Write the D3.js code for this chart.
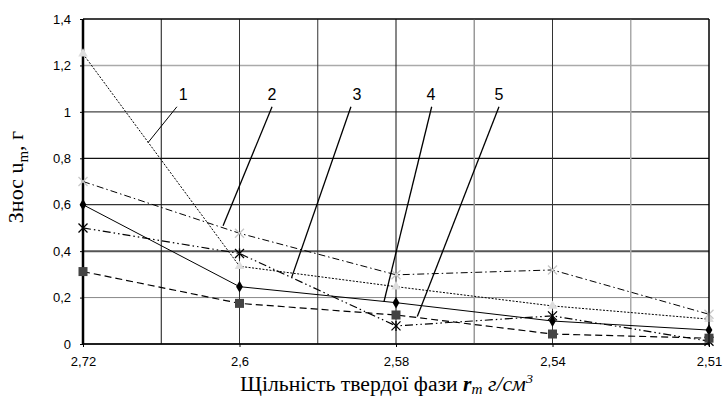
<!DOCTYPE html>
<html>
<head>
<meta charset="utf-8">
<script src="https://cdn.jsdelivr.net/npm/d3@7"></script>
<style>
  body { margin: 0; background: #fff; }
  svg { display: block; }
</style>
</head>
<body>
<svg id="chart" width="723" height="398"></svg>
<script>
// density categories (x axis)
var categories = ['2,72', '2,6', '2,58', '2,54', '2,51']
// wear values per curve
var series1 = [1.25, 0.335, 0.247, 0.164, 0.107]
var series2 = [0.70, 0.477, 0.298, 0.319, 0.128]
var series3 = [0.50, 0.39, 0.078, 0.121, 0.012]
var series4 = [0.60, 0.247, 0.178, 0.099, 0.06]
var series5 = [0.312, 0.175, 0.125, 0.043, 0.025]
var yTicks = [0, 0.2, 0.4, 0.6, 0.8, 1, 1.2, 1.4]
// curve labels: text spot and leader end, in (category index, value)
var labelNames = ['1', '2', '3', '4', '5']
var labelAt = [[0.64, 1.074], [1.208, 1.074], [1.75, 1.074], [2.224, 1.074], [2.658, 1.074]]
var leaderFrom = [[0.60, 1.022], [1.208, 1.022], [1.712, 1.022], [2.228, 1.022], [2.658, 1.022]]
var leaderTo = [[0.415, 0.867], [0.895, 0.509], [1.334, 0.288], [1.923, 0.182], [2.136, 0.118]]

var svg = d3.select('#chart')
var x = d3.scaleLinear().domain([0, categories.length - 1]).range([83, 709])
var y = d3.scaleLinear().domain([0, 1.4]).range([344, 19])

// grid colours as they look on the scan
var hGridColor = ['#000', '#888', '#555', '#333', '#111', '#444', '#aaa', '#000']
var hGridWidth = [1, 1, 2, 1.2, 1.2, 1.2, 1.5, 1]
var vGrid = d3.range(0, 4.01, 0.5)
var vGridColor = ['#000', '#111', '#333', '#333', '#111', '#999', '#333', '#aaa', '#000']

svg.append('g').selectAll('line')
  .data(yTicks)
  .enter().append('line')
  .attr('x1', x(0)).attr('x2', x(4))
  .attr('y1', function (d) { return y(d) })
  .attr('y2', function (d) { return y(d) })
  .attr('stroke', function (d, i) { return hGridColor[i] })
  .attr('stroke-width', function (d, i) { return hGridWidth[i] })

svg.append('g').selectAll('line')
  .data(vGrid)
  .enter().append('line')
  .attr('x1', function (d) { return x(d) })
  .attr('x2', function (d) { return x(d) })
  .attr('y1', y(0)).attr('y2', y(1.4))
  .attr('stroke', function (d, i) { return vGridColor[i] })
  .attr('stroke-width', function (d, i) { return i === 5 || i === 7 ? 1.5 : 1 })

var fmt = function (d) { return String(+d.toFixed(1)).replace('.', ',') }

var yAxis = svg.append('g')
  .attr('transform', 'translate(' + x(0) + ',0)')
  .call(d3.axisLeft(y).tickValues(yTicks).tickFormat(fmt).tickSize(3).tickPadding(9))
yAxis.select('.domain').attr('stroke-width', 2.5).attr('d', 'M0,' + y(0) + 'V' + y(1.4))

var xAxis = svg.append('g')
  .attr('transform', 'translate(0,' + y(0) + ')')
  .call(d3.axisBottom(x).tickValues(d3.range(categories.length))
    .tickFormat(function (d) { return categories[d] }).tickSize(3).tickPadding(10))
xAxis.select('.domain').attr('stroke-width', 1.5).attr('d', 'M' + x(0) + ',0H' + x(4))

svg.selectAll('.tick text')
  .attr('font-family', 'Liberation Sans, Arial, sans-serif')
  .attr('font-size', 13)
  .attr('fill', '#000')

var line = d3.line()
  .x(function (d, i) { return x(i) })
  .y(function (d) { return y(d) })

var curves = [
  {v: series1, dash: '2,1.5', w: 1, color: '#000'},
  {v: series2, dash: '7,3,1.5,3', w: 1, color: '#000'},
  {v: series3, dash: '8,3,1.5,3,1.5,3', w: 1.2, color: '#000'},
  {v: series4, dash: null, w: 1, color: '#000'},
  {v: series5, dash: '7,4', w: 1.2, color: '#000'}
]

svg.append('g').selectAll('path')
  .data(curves)
  .enter().append('path')
  .attr('d', function (d) { return line(d.v) })
  .attr('fill', 'none')
  .attr('stroke', function (d) { return d.color })
  .attr('stroke-width', function (d) { return d.w })
  .attr('stroke-dasharray', function (d) { return d.dash })

// markers
var tri = d3.symbol().type(d3.symbolTriangle).size(40)
svg.append('g').selectAll('path')
  .data(series1)
  .enter().append('path')
  .attr('d', tri)
  .attr('transform', function (d, i) { return 'translate(' + x(i) + ',' + y(d) + ')' })
  .attr('fill', '#ddd')

function cross (g, data, color, star) {
  var s = g.selectAll('g')
    .data(data)
    .enter().append('g')
    .attr('transform', function (d, i) { return 'translate(' + x(i) + ',' + y(d) + ')' })
    .attr('stroke', color)
    .attr('stroke-width', 1.3)
  s.append('path').attr('d', 'M-4.5,-4.5L4.5,4.5M-4.5,4.5L4.5,-4.5')
  if (star) s.append('path').attr('d', 'M0,-5V5')
}
cross(svg.append('g'), series2, '#c8c8c8', false)
cross(svg.append('g'), series3, '#000', true)

svg.append('g').selectAll('path')
  .data(series4)
  .enter().append('path')
  .attr('d', d3.symbol().type(d3.symbolDiamond).size(40))
  .attr('transform', function (d, i) { return 'translate(' + x(i) + ',' + y(d) + ')' })
  .attr('fill', '#000')

svg.append('g').selectAll('rect')
  .data(series5)
  .enter().append('rect')
  .attr('x', function (d, i) { return x(i) - 4.5 })
  .attr('y', function (d) { return y(d) - 4.5 })
  .attr('width', 9).attr('height', 9)
  .attr('fill', '#444')

// top and right border
svg.append('path')
  .attr('d', 'M' + x(0) + ',' + y(1.4) + 'H' + x(4) + 'V' + y(0))
  .attr('fill', 'none').attr('stroke', '#000')

// curve labels and leaders
svg.append('g').selectAll('line')
  .data(labelNames)
  .enter().append('line')
  .attr('x1', function (d, i) { return x(leaderFrom[i][0]) })
  .attr('y1', function (d, i) { return y(leaderFrom[i][1]) })
  .attr('x2', function (d, i) { return x(leaderTo[i][0]) })
  .attr('y2', function (d, i) { return y(leaderTo[i][1]) })
  .attr('stroke', '#000')
  .attr('stroke-width', function (d, i) { return i === 0 ? 1 : 1.3 })

svg.append('g').selectAll('text')
  .data(labelNames)
  .enter().append('text')
  .attr('x', function (d, i) { return x(labelAt[i][0]) })
  .attr('y', function (d, i) { return y(labelAt[i][1]) })
  .attr('dy', '0.35em')
  .attr('text-anchor', 'middle')
  .attr('font-family', 'Liberation Sans, Arial, sans-serif')
  .attr('font-size', 16)
  .text(function (d) { return d })

// axis titles
var yt = svg.append('text')
  .attr('transform', 'translate(23,177) rotate(-90)')
  .attr('text-anchor', 'middle')
  .attr('font-family', 'Liberation Serif, Times New Roman, serif')
  .attr('font-size', 22)
yt.append('tspan').text('Знос u')
yt.append('tspan').attr('font-size', 15).attr('dy', 5).text('m')
yt.append('tspan').attr('dy', -5).text(', г')

var xt = svg.append('text')
  .attr('x', 240).attr('y', 391)
  .attr('textLength', 293)
  .attr('lengthAdjust', 'spacingAndGlyphs')
  .attr('font-family', 'Liberation Serif, Times New Roman, serif')
  .attr('font-size', 20)
xt.append('tspan').text('Щільність твердої фази ')
xt.append('tspan').attr('font-weight', 'bold').attr('font-style', 'italic').text('r')
xt.append('tspan').attr('font-style', 'italic').attr('font-size', 14).attr('dy', 3).text('m')
xt.append('tspan').attr('font-style', 'italic').attr('dy', -3).text(' г/см')
xt.append('tspan').attr('font-style', 'italic').attr('font-size', 13).attr('dy', -8).text('3')
</script>
</body>
</html>
